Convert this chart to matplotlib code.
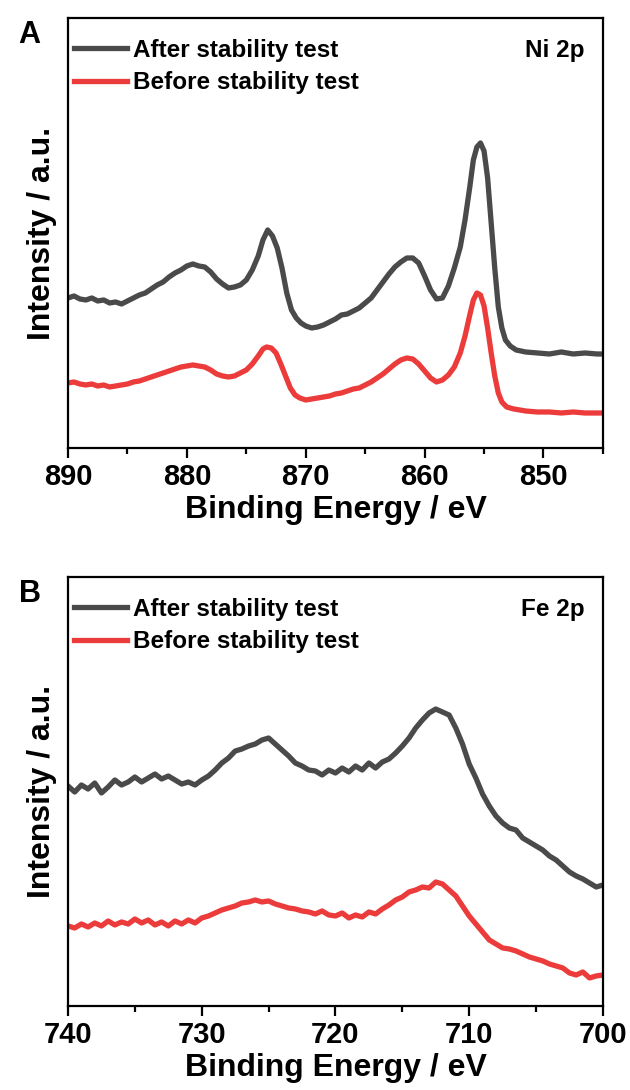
import matplotlib.pyplot as plt
from matplotlib.ticker import MultipleLocator

plt.rcParams["font.family"] = ["Liberation Sans", "DejaVu Sans"]
plt.rcParams["font.weight"] = "bold"

# Ni 2p spectra (binding energy in eV, intensity in a.u.)
ni_after_x = [890.0, 889.5, 889.0, 888.5, 888.0, 887.5, 887.0, 886.5, 886.0, 885.5,
              885.0, 884.5, 884.0, 883.5, 883.0, 882.5, 882.0, 881.5, 881.0, 880.5,
              880.0, 879.5, 879.0, 878.5, 878.0, 877.5, 877.0, 876.5, 876.0, 875.5,
              875.0, 874.5, 874.0, 873.6, 873.2, 872.8, 872.4, 872.0, 871.6, 871.2,
              870.8, 870.4, 870.0, 869.5, 869.0, 868.5, 868.0, 867.5, 867.0, 866.5,
              866.0, 865.5, 865.0, 864.5, 864.0, 863.5, 863.0, 862.5, 862.0, 861.5,
              861.0, 860.5, 860.0, 859.5, 859.0, 858.5, 858.0, 857.5, 857.0, 856.6,
              856.2, 855.9, 855.6, 855.3, 855.0, 854.7, 854.4, 854.1, 853.8, 853.5,
              853.2, 852.8, 852.3, 851.5, 850.5, 849.5, 848.5, 847.5, 846.5, 845.5, 845.0]
ni_after_y = [150, 152, 149, 148, 150, 147, 148, 145, 146, 144,
              147, 150, 153, 155, 159, 163, 166, 171, 175, 178,
              182, 184, 182, 181, 176, 169, 164, 160, 161, 163,
              168, 178, 192, 208, 218, 212, 200, 180, 155, 138,
              130, 125, 122, 120, 121, 123, 126, 129, 133, 134,
              137, 140, 145, 150, 158, 166, 174, 181, 186, 190,
              190, 185, 172, 158, 149, 150, 162, 180, 201, 228,
              261, 288, 301, 305, 297, 270, 225, 180, 141, 120,
              108, 102, 98, 96, 95, 94, 96, 94, 95, 94, 94]

ni_before_x = [890.0, 889.5, 889.0, 888.5, 888.0, 887.5, 887.0, 886.5, 886.0, 885.5,
               885.0, 884.5, 884.0, 883.5, 883.0, 882.5, 882.0, 881.5, 881.0, 880.5,
               880.0, 879.5, 879.0, 878.5, 878.0, 877.5, 877.0, 876.5, 876.0, 875.5,
               875.0, 874.5, 874.0, 873.6, 873.3, 872.9, 872.5, 872.1, 871.7, 871.3,
               870.9, 870.5, 870.0, 869.5, 869.0, 868.5, 868.0, 867.5, 867.0, 866.5,
               866.0, 865.5, 865.0, 864.5, 864.0, 863.5, 863.0, 862.5, 862.0, 861.5,
               861.0, 860.5, 860.0, 859.5, 859.0, 858.5, 858.0, 857.5, 857.0, 856.6,
               856.2, 855.9, 855.6, 855.3, 855.0, 854.7, 854.4, 854.1, 853.8, 853.5,
               853.1, 852.5, 851.5, 850.5, 849.5, 848.5, 847.5, 846.5, 845.5, 845.0]
ni_before_y = [65, 66, 64, 63, 64, 62, 63, 61, 62, 63,
               64, 66, 67, 69, 71, 73, 75, 77, 79, 81,
               82, 83, 82, 81, 78, 74, 72, 71, 72, 75,
               78, 84, 92, 99, 101, 100, 95, 84, 72, 60,
               53, 50, 48, 49, 50, 51, 52, 54, 55, 57,
               59, 60, 63, 66, 70, 74, 79, 84, 88, 90,
               89, 84, 77, 70, 66, 68, 73, 81, 95, 112,
               133, 148, 155, 153, 142, 120, 95, 72, 55, 46,
               41, 39, 37, 36, 36, 35, 36, 35, 35, 35]

# Fe 2p spectra
fe_after_x = [740.0, 739.5, 739.0, 738.5, 738.0, 737.5, 737.0, 736.5, 736.0, 735.5,
              735.0, 734.5, 734.0, 733.5, 733.0, 732.5, 732.0, 731.5, 731.0, 730.5,
              730.0, 729.5, 729.0, 728.5, 728.0, 727.5, 727.0, 726.5, 726.0, 725.5,
              725.0, 724.5, 724.0, 723.5, 723.0, 722.5, 722.0, 721.5, 721.0, 720.5,
              720.0, 719.5, 719.0, 718.5, 718.0, 717.5, 717.0, 716.5, 716.0, 715.5,
              715.0, 714.5, 714.0, 713.5, 713.0, 712.5, 712.0, 711.5, 711.0, 710.5,
              710.0, 709.5, 709.0, 708.5, 708.0, 707.5, 707.0, 706.5, 706.0, 705.5,
              705.0, 704.5, 704.0, 703.5, 703.0, 702.5, 702.0, 701.5, 701.0, 700.5, 700.0]
fe_after_y = [220, 214, 221, 217, 223, 213, 219, 226, 221, 224,
              229, 224, 228, 232, 227, 230, 226, 222, 224, 221,
              226, 230, 236, 243, 248, 255, 257, 260, 262, 266,
              268, 262, 256, 250, 243, 240, 236, 235, 231, 236,
              233, 238, 234, 240, 236, 243, 238, 244, 247, 253,
              260, 268, 278, 286, 293, 297, 294, 291, 278, 262,
              242, 228, 212, 200, 190, 183, 178, 176, 168, 164,
              160, 156, 150, 146, 140, 134, 130, 127, 123, 119, 121]

fe_before_x = fe_after_x
fe_before_y = [80, 78, 82, 79, 83, 80, 85, 81, 84, 82,
               87, 83, 86, 81, 84, 80, 85, 82, 86, 83,
               88, 90, 93, 96, 98, 100, 103, 104, 106, 104,
               105, 102, 100, 98, 97, 95, 94, 92, 95, 91,
               90, 93, 88, 91, 89, 94, 92, 97, 101, 106,
               109, 114, 116, 119, 118, 124, 122, 116, 110, 100,
               90, 82, 74, 66, 62, 58, 57, 55, 52, 49,
               47, 45, 42, 40, 38, 33, 31, 34, 28, 30, 31]

gray = "#4a4a4a"
red = "#ec3b3b"


def draw_panel(ax, after, before, xlim, ylim, tag, letter):
    ax.plot(after[0], after[1], color=gray, lw=3.8, label="After stability test")
    ax.plot(before[0], before[1], color=red, lw=3.8, label="Before stability test")
    ax.set_xlim(*xlim)
    ax.set_ylim(*ylim)
    ax.set_yticks([])
    ax.xaxis.set_major_locator(MultipleLocator(10))
    ax.xaxis.set_minor_locator(MultipleLocator(5))
    ax.tick_params(axis="x", which="major", direction="out", length=7, width=1.6,
                   labelsize=21, pad=4)
    ax.tick_params(axis="x", which="minor", direction="out", length=4, width=1.6)
    for s in ax.spines.values():
        s.set_linewidth(1.6)
    ax.set_xlabel("Binding Energy / eV", fontsize=23, fontweight="bold", labelpad=3)
    ax.set_ylabel("Intensity / a.u.", fontsize=23, fontweight="bold", labelpad=8)
    ax.legend(loc="upper left", bbox_to_anchor=(-0.028, 1.0), frameon=False,
              fontsize=17.5, handlelength=2.2, handletextpad=0.25,
              labelspacing=0.4, borderaxespad=0.55, borderpad=0.3)
    ax.text(0.965, 0.925, tag, transform=ax.transAxes, ha="right", va="center",
            fontsize=17.5, fontweight="bold")
    ax.text(-0.072, 0.96, letter, transform=ax.transAxes, ha="center", va="center",
            fontsize=22, fontweight="bold")


fig = plt.figure(figsize=(6.3, 10.9), dpi=100)
ax1 = fig.add_axes([0.108, 0.589, 0.849, 0.3945])
ax2 = fig.add_axes([0.108, 0.0771, 0.849, 0.3935])

draw_panel(ax1, (ni_after_x, ni_after_y), (ni_before_x, ni_before_y),
           (890, 845), (0, 430), "Ni 2p", "A")
draw_panel(ax2, (fe_after_x, fe_after_y), (fe_before_x, fe_before_y),
           (740, 700), (0, 429), "Fe 2p", "B")

fig.savefig("out.png", dpi=100)
